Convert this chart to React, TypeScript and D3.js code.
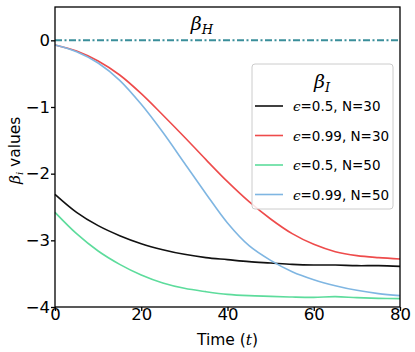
import React, { useEffect, useRef } from 'react'
import * as d3 from 'd3'

// time steps
const times = [0, 5, 10, 15, 20, 25, 30, 35, 40, 45, 50, 55, 60, 65, 70, 75, 80]

// beta_I curves, one per setting
const eps05N30 = [-2.31, -2.58, -2.78, -2.93, -3.05, -3.14, -3.21, -3.26, -3.29, -3.32, -3.34, -3.36, -3.37, -3.37, -3.38, -3.38, -3.39]
const eps099N30 = [-0.07, -0.16, -0.31, -0.52, -0.8, -1.12, -1.45, -1.79, -2.12, -2.42, -2.68, -2.9, -3.06, -3.17, -3.23, -3.26, -3.28]
const eps05N50 = [-2.58, -2.9, -3.16, -3.36, -3.52, -3.64, -3.72, -3.77, -3.81, -3.83, -3.84, -3.85, -3.855, -3.845, -3.86, -3.87, -3.875]
const eps099N50 = [-0.07, -0.17, -0.34, -0.6, -0.96, -1.38, -1.84, -2.3, -2.74, -3.08, -3.3, -3.47, -3.59, -3.68, -3.75, -3.8, -3.83]

const betaH = 0

const seriesLabels = ['=0.5, N=30', '=0.99, N=30', '=0.5, N=50', '=0.99, N=50']
const seriesColors = ['#111111', '#ee4b4b', '#5ddc9c', '#7fb6e2']
const xTicks = [0, 20, 40, 60, 80]
const yTicks = [0, -1, -2, -3, -4]

export default function App() {
  const ref = useRef<SVGSVGElement>(null)

  useEffect(() => {
    const width = 415
    const height = 352
    const margin = { top: 7, right: 15, bottom: 45, left: 55 }
    const w = width - margin.left - margin.right
    const h = height - margin.top - margin.bottom

    const svg = d3.select(ref.current)
    svg.selectAll('*').remove()

    const g = svg.append('g')
      .attr('transform', `translate(${margin.left},${margin.top})`)

    const x = d3.scaleLinear().domain([0, 80]).range([0, w])
    const y = d3.scaleLinear().domain([-4, 0.5]).range([h, 0])

    const font = 'DejaVu Sans, sans-serif'

    // beta_H line
    g.append('line')
      .attr('x1', x(0)).attr('x2', x(80))
      .attr('y1', y(betaH)).attr('y2', y(betaH))
      .attr('stroke', '#3a8e9a')
      .attr('stroke-width', 2)
      .attr('stroke-dasharray', '7,2.5,2,2.5')

    const bh = g.append('text')
      .attr('x', x(31.5)).attr('y', y(betaH) - 10)
      .attr('font-family', 'DejaVu Serif, serif')
      .attr('font-style', 'italic')
      .attr('font-size', 19)
    bh.append('tspan').text('β')
    bh.append('tspan').attr('font-size', 13).attr('dy', 4).text('H')

    const line = d3.line<number>()
      .x((d, i) => x(times[i]))
      .y(d => y(d))
      .curve(d3.curveCatmullRom)

    const allSeries = [eps05N30, eps099N30, eps05N50, eps099N50]
    allSeries.forEach((s, i) => {
      g.append('path')
        .datum(s)
        .attr('d', line)
        .attr('fill', 'none')
        .attr('stroke', seriesColors[i])
        .attr('stroke-width', 1.6)
    })

    // frame
    g.append('rect')
      .attr('width', w).attr('height', h)
      .attr('fill', 'none')
      .attr('stroke', '#000')
      .attr('stroke-width', 1.3)

    const xAxis = g.append('g')
      .attr('transform', `translate(0,${h})`)
      .call(d3.axisBottom(x).tickValues(xTicks).tickSize(4).tickSizeOuter(0).tickFormat(d3.format('d')))
    const yAxis = g.append('g')
      .call(d3.axisLeft(y).tickValues(yTicks).tickSize(4).tickSizeOuter(0).tickFormat(d3.format('d')))
    ;[xAxis, yAxis].forEach(a => {
      a.select('.domain').remove()
      a.selectAll('line').attr('stroke', '#000').attr('stroke-width', 1.3)
      a.selectAll('text')
        .attr('font-family', font)
        .attr('font-size', 16.5)
        .attr('fill', '#000')
    })
    xAxis.selectAll('text').attr('dy', '0.62em').attr('y', 3)
    yAxis.selectAll('text').attr('x', -5)

    // axis titles
    const xt = svg.append('text')
      .attr('x', margin.left + w / 2).attr('y', 345)
      .attr('text-anchor', 'middle')
      .attr('font-family', font)
      .attr('font-size', 15.5)
    xt.append('tspan').text('Time (')
    xt.append('tspan').attr('font-family', 'DejaVu Serif, serif').attr('font-style', 'italic').text('t')
    xt.append('tspan').text(')')

    const yt = svg.append('text')
      .attr('transform', `translate(20,${margin.top + y(-1.65)}) rotate(-90)`)
      .attr('text-anchor', 'middle')
      .attr('font-family', font)
      .attr('font-size', 15.5)
    yt.append('tspan').attr('font-family', 'DejaVu Serif, serif').attr('font-style', 'italic').text('β')
    yt.append('tspan').attr('font-family', 'DejaVu Serif, serif').attr('font-style', 'italic').attr('font-size', 10).attr('dy', 3).text('i')
    yt.append('tspan').attr('dy', -3).text(' values')

    // legend
    const lg = svg.append('g').attr('transform', 'translate(252,64)')
    lg.append('rect')
      .attr('width', 141).attr('height', 145)
      .attr('rx', 3)
      .attr('fill', '#fff')
      .attr('fill-opacity', 0.85)
      .attr('stroke', '#cccccc')
      .attr('stroke-width', 1)
    const lt = lg.append('text')
      .attr('x', 62).attr('y', 24)
      .attr('font-family', 'DejaVu Serif, serif')
      .attr('font-style', 'italic')
      .attr('font-size', 19)
    lt.append('tspan').text('β')
    lt.append('tspan').attr('font-size', 13).attr('dy', 4).text('I')

    seriesLabels.forEach((lab, i) => {
      const yy = 42 + i * 29.5
      lg.append('line')
        .attr('x1', 3).attr('x2', 31)
        .attr('y1', yy).attr('y2', yy)
        .attr('stroke', seriesColors[i])
        .attr('stroke-width', 1.6)
      const t = lg.append('text')
        .attr('x', 41).attr('y', yy + 5)
        .attr('font-family', font)
        .attr('font-size', 13.5)
      t.append('tspan').attr('font-family', 'DejaVu Serif, serif').attr('font-style', 'italic').text('ϵ')
      t.append('tspan').text(lab)
    })
  }, [])

  return <svg ref={ref} width={415} height={352} style={{ position: 'absolute', left: 0, top: 0 }}></svg>
}
